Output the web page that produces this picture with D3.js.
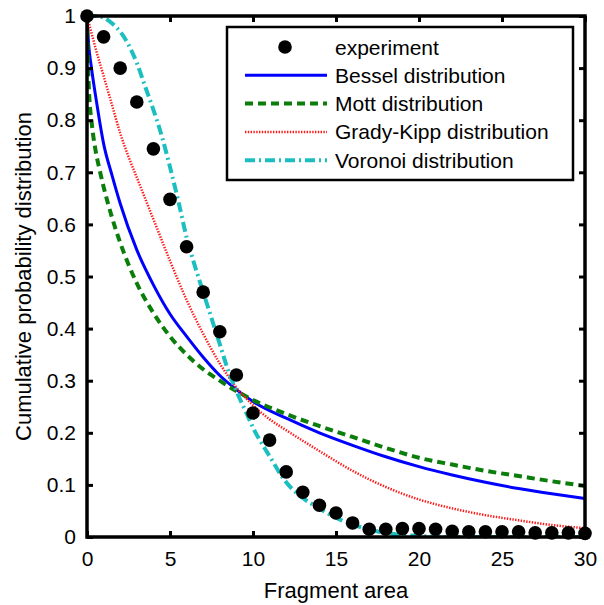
<!DOCTYPE html>
<html>
<head>
<meta charset="utf-8">
<script src="https://cdn.jsdelivr.net/npm/d3@7"></script>
<style>
  body { margin: 0; background: #fff; }
  svg { display: block; font-family: "Liberation Sans", Arial, Helvetica, sans-serif; }
</style>
</head>
<body>
<svg id="chart" width="604" height="605"></svg>
<script>
// experiment points
const expArea = [0,1,2,3,4,5,6,7,8,9,10,11,12,13,14,15,16,17,18,19,20,21,22,23,24,25,26,27,28,29,30];
const expProb = [1.0,0.96,0.90,0.835,0.745,0.648,0.557,0.47,0.394,0.311,0.238,0.186,0.125,0.086,0.061,0.046,0.027,0.015,0.015,0.016,0.016,0.015,0.011,0.01,0.01,0.01,0.01,0.008,0.008,0.008,0.007];

// fitted curves
const besselArea = [0,0.1,0.25,0.5,0.75,1,1.5,2,3,4,5,6,7,8,9,10,12,14,16,18,20,22,24,26,28,30];
const besselProb = [1,0.945,0.905,0.85,0.8,0.755,0.695,0.64,0.551,0.484,0.428,0.385,0.345,0.31,0.283,0.26,0.228,0.2,0.176,0.154,0.135,0.119,0.105,0.093,0.083,0.074];

const mottArea = [0,0.05,0.1,0.3,0.5,0.75,1,1.5,2,3,4,5,6,7,8,9,10,12,14,16,18,20,22,24,26,28,30];
const mottProb = [1,0.92,0.87,0.79,0.745,0.706,0.672,0.614,0.565,0.487,0.43,0.385,0.35,0.322,0.3,0.28,0.263,0.236,0.213,0.192,0.171,0.152,0.139,0.127,0.117,0.107,0.098];

const gkArea = [0,0.25,0.5,1,1.5,2,2.5,3,4,5,6,7,8,9,10,11,12,14,16,18,20,22,24,26,28,30];
const gkProb = [1,0.97,0.94,0.885,0.83,0.775,0.73,0.69,0.61,0.53,0.455,0.39,0.333,0.287,0.253,0.226,0.205,0.165,0.127,0.096,0.072,0.055,0.042,0.032,0.023,0.017];

const voronoiArea = [0,0.5,1,1.5,2,2.5,3,3.5,4,4.5,5,5.5,6,6.5,7,7.5,8,8.5,9,9.5,10,11,12,13,14,15,16,17,18,19,20,22,30];
const voronoiProb = [1,1,0.997,0.986,0.97,0.945,0.91,0.865,0.82,0.77,0.71,0.645,0.575,0.52,0.47,0.42,0.37,0.32,0.28,0.245,0.21,0.155,0.105,0.075,0.055,0.037,0.024,0.014,0.008,0.004,0.002,0,0];

const xTicks = [0,5,10,15,20,25,30];
const yTicks = [0,0.1,0.2,0.3,0.4,0.5,0.6,0.7,0.8,0.9,1];
const legendLabels = ['experiment','Bessel distribution','Mott distribution','Grady-Kipp distribution','Voronoi distribution'];

const width = 604, height = 605;
const margin = { top: 16, right: 19, bottom: 68, left: 87 };
const plotW = width - margin.left - margin.right;
const plotH = height - margin.top - margin.bottom;

const svg = d3.select('#chart');
svg.append('rect').attr('width', width).attr('height', height).attr('fill', '#fff');

const g = svg.append('g').attr('transform', `translate(${margin.left},${margin.top})`);

const x = d3.scaleLinear().domain([0, 30]).range([0, plotW]);
const y = d3.scaleLinear().domain([0, 1]).range([plotH, 0]);

g.append('clipPath').attr('id', 'clip')
  .append('rect').attr('x', 0).attr('y', -2).attr('width', plotW).attr('height', plotH + 2);

// curves
const series = [
  { xs: besselArea, ys: besselProb, color: '#0000ff', width: 3, dash: null },
  { xs: mottArea, ys: mottProb, color: '#0b7d0b', width: 4, dash: '8,5' },
  { xs: gkArea, ys: gkProb, color: '#ff1a1a', width: 2.5, dash: '1.4,1.4' },
  { xs: voronoiArea, ys: voronoiProb, color: '#1cbfbf', width: 4, dash: '10,4,2,4' }
];

const line = d3.line()
  .x(d => x(d[0]))
  .y(d => y(d[1]))
  .curve(d3.curveMonotoneX);

const curves = g.append('g').attr('clip-path', 'url(#clip)');
series.forEach(s => {
  curves.append('path')
    .datum(s.xs.map((v, i) => [v, s.ys[i]]))
    .attr('d', line)
    .attr('fill', 'none')
    .attr('stroke', s.color)
    .attr('stroke-width', s.width)
    .attr('stroke-dasharray', s.dash);
});

// experiment dots
g.append('g')
  .selectAll('circle')
  .data(expArea.map((v, i) => [v, expProb[i]]))
  .enter()
  .append('circle')
  .attr('cx', d => x(d[0]))
  .attr('cy', d => y(d[1]))
  .attr('r', 6.8)
  .attr('fill', '#000');

// axes, ticks pointing inward
const fmt = d => d === 0 || d === 1 ? String(d) : d3.format('.1f')(d);
const tickLen = 6;

const xAxis = g.append('g')
  .attr('transform', `translate(0,${plotH})`)
  .call(d3.axisBottom(x).tickValues(xTicks).tickSizeInner(-tickLen).tickSizeOuter(0).tickPadding(14).tickFormat(d3.format('d')));
const xTop = g.append('g')
  .call(d3.axisTop(x).tickValues(xTicks).tickSizeInner(-tickLen).tickSizeOuter(0).tickFormat(''));
const yAxis = g.append('g')
  .call(d3.axisLeft(y).tickValues(yTicks).tickSizeInner(-tickLen).tickSizeOuter(0).tickPadding(11).tickFormat(fmt));
const yRight = g.append('g')
  .attr('transform', `translate(${plotW},0)`)
  .call(d3.axisRight(y).tickValues(yTicks).tickSizeInner(-tickLen).tickSizeOuter(0).tickFormat(''));

[xAxis, xTop, yAxis, yRight].forEach(a => {
  a.select('.domain').remove();
  a.selectAll('line').attr('stroke', '#000').attr('stroke-width', 3);
  a.selectAll('text').attr('font-size', 21).attr('fill', '#000').attr('font-family', '"Liberation Sans", Arial, sans-serif');
});

// frame
g.append('rect')
  .attr('width', plotW).attr('height', plotH)
  .attr('fill', 'none').attr('stroke', '#000').attr('stroke-width', 3.5);

// axis titles
svg.append('text')
  .attr('x', margin.left + plotW / 2)
  .attr('y', 598)
  .attr('text-anchor', 'middle')
  .attr('font-size', 22)
  .text('Fragment area');

svg.append('text')
  .attr('transform', `translate(31,${margin.top + plotH / 2}) rotate(-90)`)
  .attr('text-anchor', 'middle')
  .attr('font-size', 22)
  .text('Cumulative probability distribution');

// legend
const lg = svg.append('g').attr('transform', 'translate(227,27)');
lg.append('rect')
  .attr('width', 346).attr('height', 153)
  .attr('fill', '#fff').attr('stroke', '#000').attr('stroke-width', 2.5);

const rowY = i => 20 + i * 28.3;
legendLabels.forEach((lab, i) => {
  const row = lg.append('g').attr('transform', `translate(0,${rowY(i)})`);
  if (i === 0) {
    row.append('circle').attr('cx', 58).attr('cy', 0).attr('r', 6.8).attr('fill', '#000');
  } else {
    const s = series[i - 1];
    row.append('line')
      .attr('x1', 18).attr('x2', 100).attr('y1', 0).attr('y2', 0)
      .attr('stroke', s.color)
      .attr('stroke-width', s.width)
      .attr('stroke-dasharray', s.dash);
  }
  row.append('text')
    .attr('x', 108).attr('y', 0).attr('dy', '0.36em')
    .attr('font-size', 21)
    .text(lab);
});
</script>
</body>
</html>
